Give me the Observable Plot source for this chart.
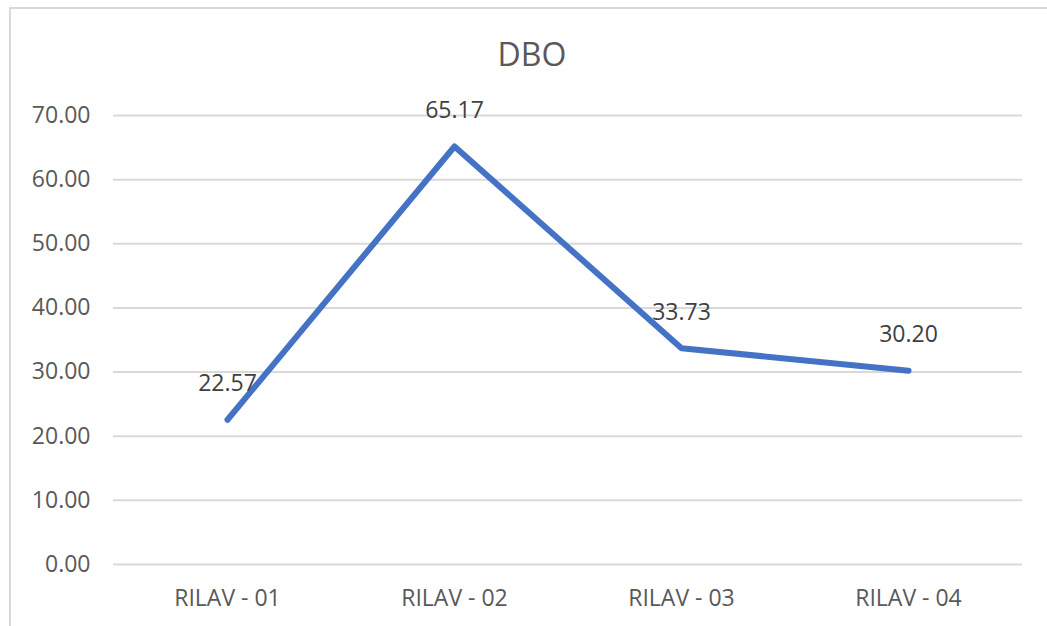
<!DOCTYPE html>
<html>
<head>
<meta charset="utf-8">
<script src="https://cdn.jsdelivr.net/npm/d3@7"></script>
<script src="https://cdn.jsdelivr.net/npm/@observablehq/plot@0.6"></script>
<style>
  html, body { margin: 0; padding: 0; background: #ffffff; }
  #wrap { position: relative; width: 1047px; height: 626px; overflow: hidden; background: #fff; }
  #frame { position: absolute; left: 9px; top: 7px; width: 1200px; height: 800px;
           border: 2.5px solid #d9d9d9; box-sizing: border-box; }
  #title { position: absolute; left: 532px; top: 38px; transform: translateX(-50%);
           font-family: "Open Sans", sans-serif; font-size: 32px; line-height: 32px;
           color: #595959; white-space: nowrap; }
  #chart { position: absolute; left: 0; top: 0; }
</style>
</head>
<body>
<div id="wrap">
  <div id="frame"></div>
  <div id="title">DBO</div>
  <div id="chart"></div>
</div>
<script>
const categories = ["RILAV - 01", "RILAV - 02", "RILAV - 03", "RILAV - 04"];
const values = [22.57, 65.17, 33.73, 30.20];
const valueLabels = ["22.57", "65.17", "33.73", "30.20"];
const yTicks = [0, 10, 20, 30, 40, 50, 60, 70];

const data = categories.map((c, i) => ({cat: c, v: values[i], label: valueLabels[i]}));

const chart = Plot.plot({
  width: 1047,
  height: 626,
  marginLeft: 113,
  marginRight: 25,
  marginTop: 115,
  marginBottom: 62,
  style: {fontFamily: "Open Sans, sans-serif", fontSize: "23px", color: "#595959", background: "transparent", overflow: "visible"},
  x: {type: "point", domain: categories, padding: 0.5, tickSize: 0, tickPadding: 25, label: null},
  y: {domain: [0, 70], ticks: yTicks, tickFormat: d3.format(".2f"), tickSize: 0, tickPadding: 23, label: null},
  marks: [
    Plot.ruleY(yTicks, {stroke: "#d9d9d9", strokeWidth: 2}),
    Plot.line(data, {x: "cat", y: "v", stroke: "#4472C4", strokeWidth: 6, strokeLinecap: "round", strokeLinejoin: "round"}),
    Plot.text(data, {x: "cat", y: "v", text: "label", dy: -36, fill: "#404040", fontSize: 23})
  ]
});
document.getElementById("chart").appendChild(chart);
</script>
</body>
</html>
